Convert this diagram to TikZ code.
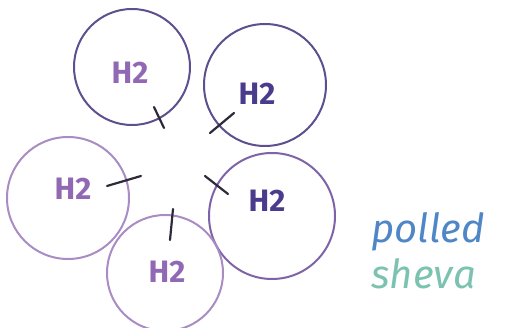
\documentclass[tikz,border=0pt]{standalone}
\usepackage{fontspec}
\setmainfont{Fira Sans}
\usetikzlibrary{positioning}
\definecolor{rdark}{HTML}{5E4F8E}
\definecolor{rmid}{HTML}{7E63A8}
\definecolor{rlight}{HTML}{A98CC4}
\definecolor{hdark}{HTML}{4B3B8C}
\definecolor{hlight}{HTML}{9068B4}
\definecolor{ink}{HTML}{2E2A3A}
\definecolor{capblue}{HTML}{4F86C6}
\definecolor{capteal}{HTML}{7CC2B0}
\tikzset{
  ring/.style={circle,draw=rdark,line width=2pt,inner sep=0pt,minimum size=#1},
  hlab/.style={font=\fontsize{31}{31}\selectfont\bfseries,text=hlight},
  bond/.style={line width=2.2pt,draw=ink,line cap=round},
  capt/.style={font=\fontsize{40}{40}\selectfont\itshape,anchor=west},
}

\begin{document}
\begin{tikzpicture}[x=1pt,y=-1pt]
\useasboundingbox (0,0) rectangle (512,328);
% molecules
\node[ring=116pt] (tl) at (132,67) {};
\node[ring=122pt] (tr) at (265,85) {};
\node[ring=122pt,draw=rlight] (le) at (68,198) {};
\node[ring=126pt,draw=rmid] (ri) at (272,216) {};
\node[ring=116pt,draw=rlight] (bo) at (165,273) {};
\node[hlab] (tlh) at (130,73) {H2};
\node[hlab,text=hdark] (trh) at (257,94) {H2};
\node[hlab] (leh) at (73,189) {H2};
\node[hlab,text=hdark] (rih) at (267,201) {H2};
\node[hlab] (boh) at (167,272) {H2};
% bonds towards the middle
\coordinate (tl-a) at (154,107); \coordinate (tl-b) at (164,128);
\coordinate (tr-a) at (234,113); \coordinate (tr-b) at (210,133);
\coordinate (le-a) at (107,186); \coordinate (le-b) at (141,176);
\coordinate (ri-a) at (205,176); \coordinate (ri-b) at (228,194);
\coordinate (bo-a) at (173,209); \coordinate (bo-b) at (170,240);
\draw[bond] (tl-a) -- (tl-b);
\draw[bond] (tr-a) -- (tr-b);
\draw[bond] (le-a) -- (le-b);
\draw[bond] (ri-a) -- (ri-b);
\draw[bond] (bo-a) -- (bo-b);
% caption
\node[capt,text=capblue] (c1) at (368,232) {polled};
\node[capt,text=capteal,below=0pt of c1.south west,anchor=north west] (c2) {sheva};
\end{tikzpicture}
\end{document}
